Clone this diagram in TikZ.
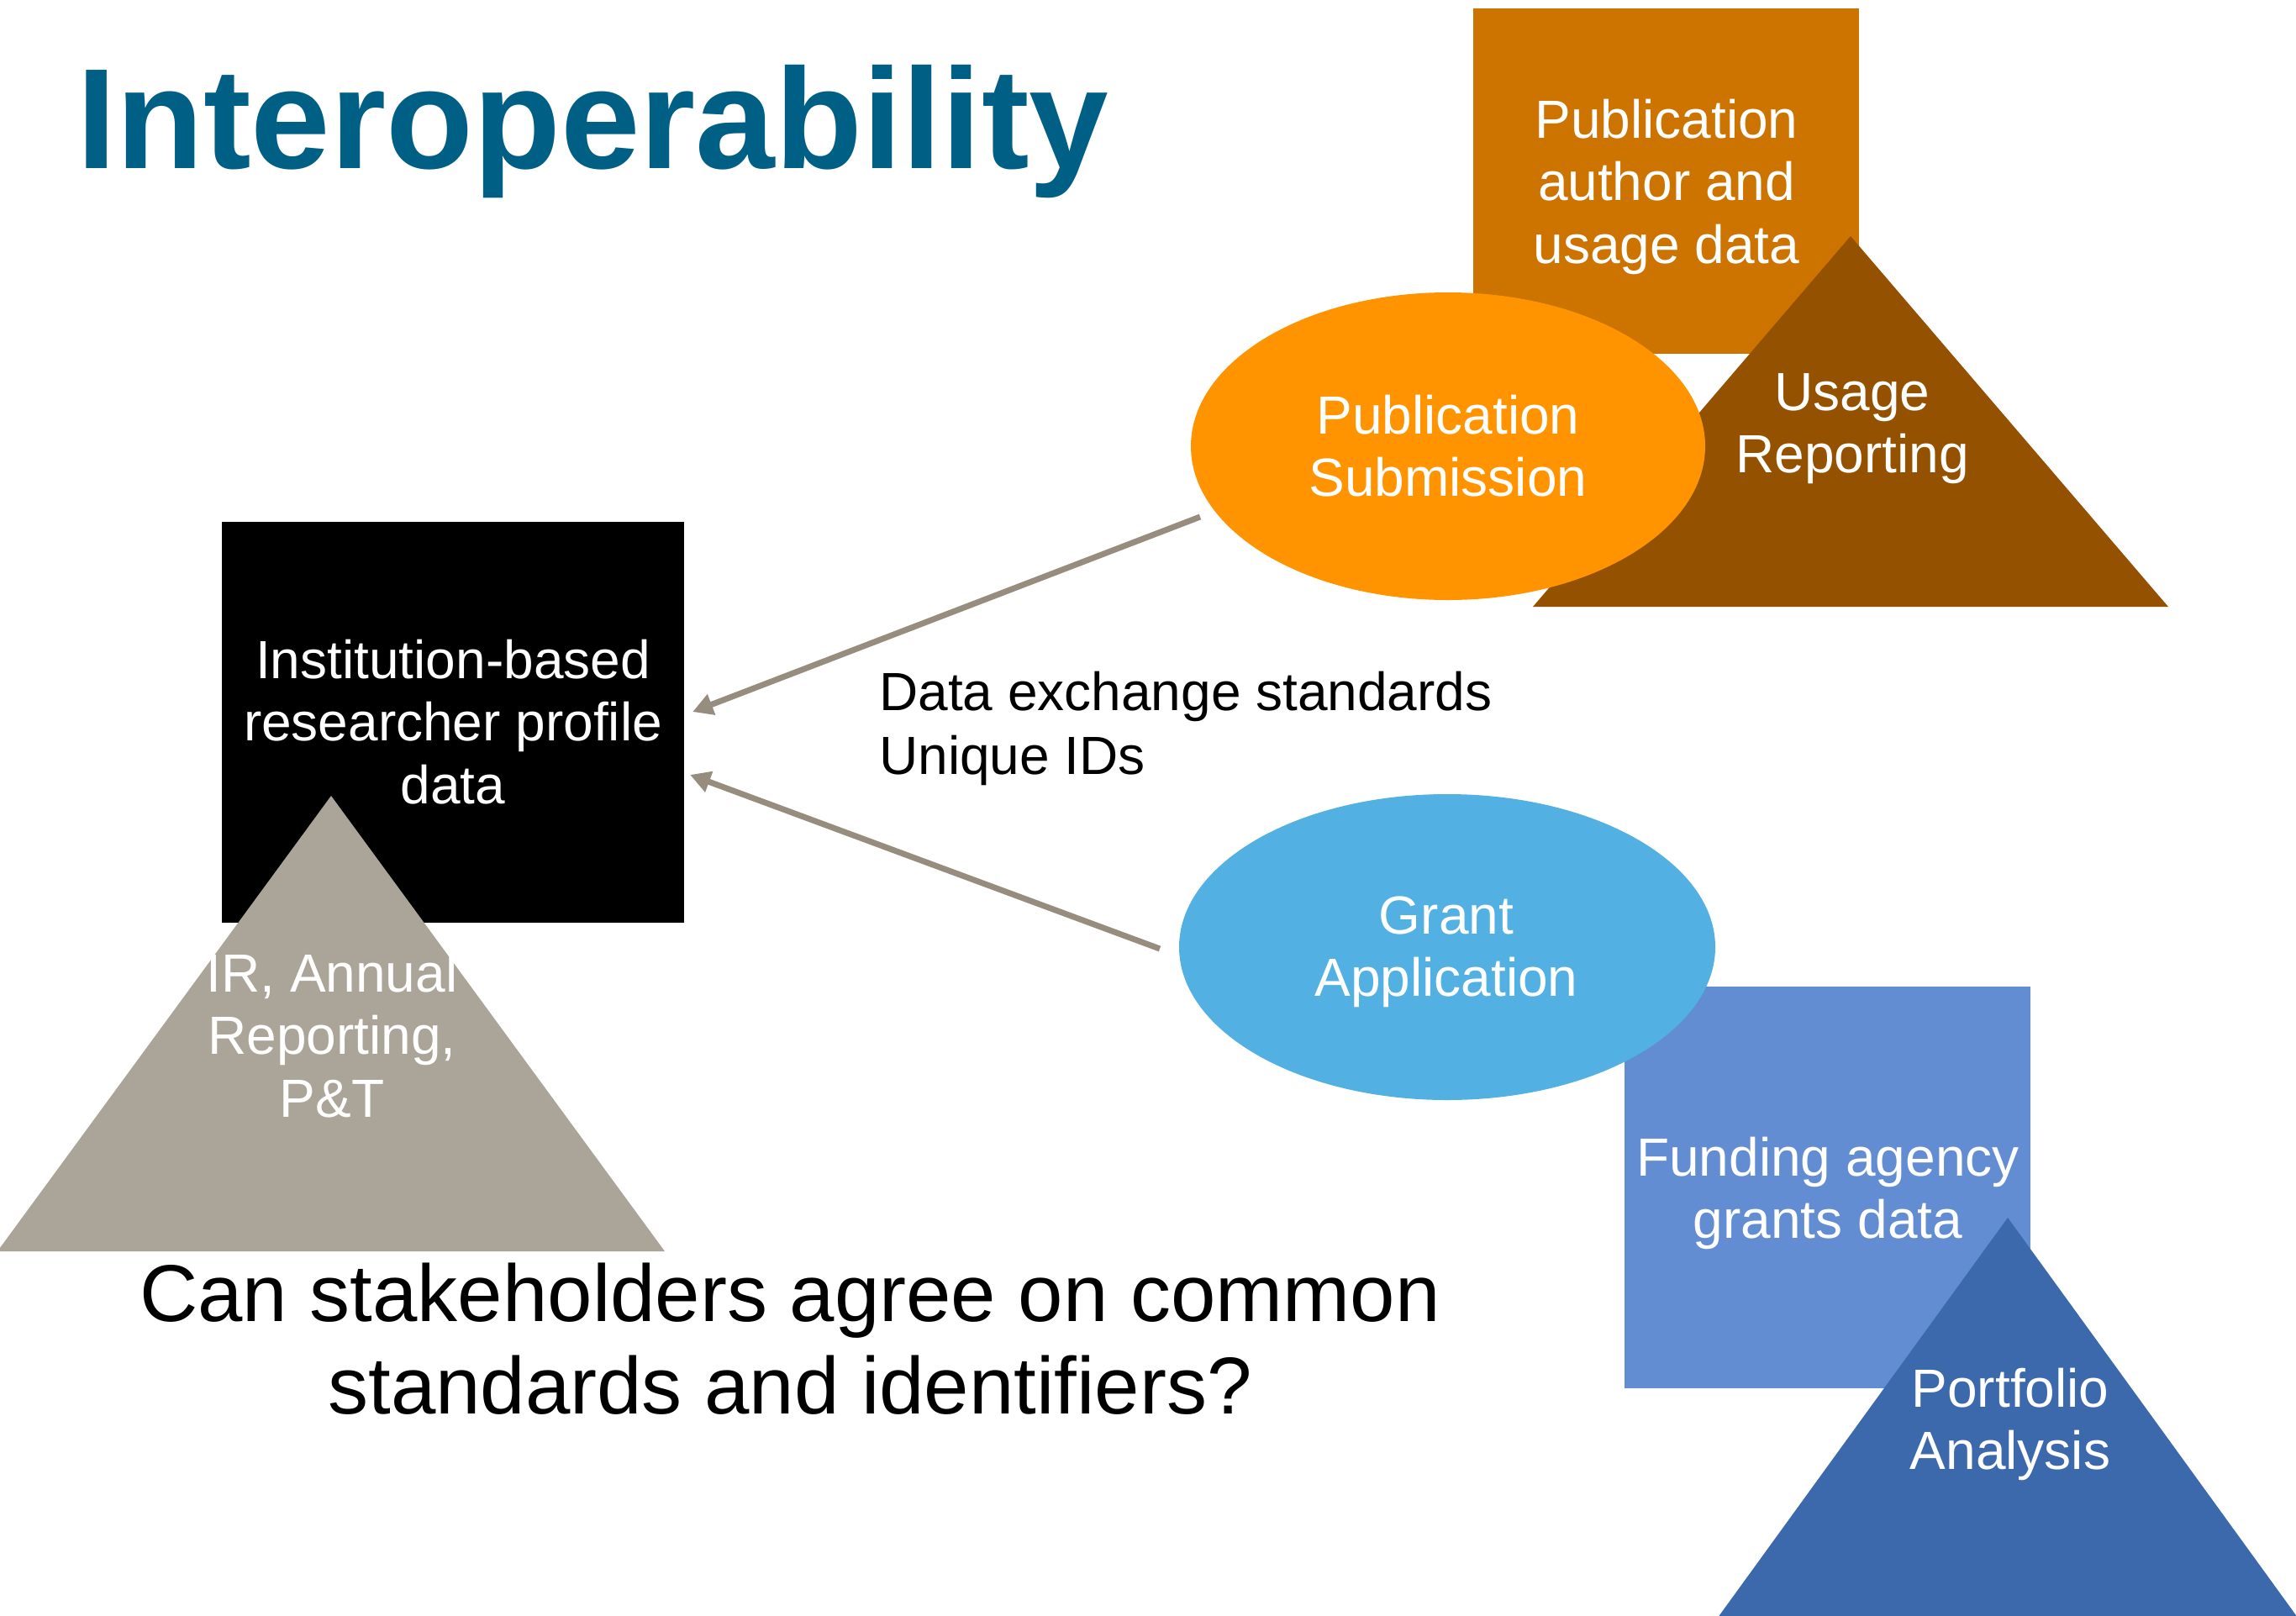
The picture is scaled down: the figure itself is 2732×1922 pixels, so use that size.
\documentclass[tikz,border=0pt]{standalone}
\usepackage{fontspec}
\setmainfont{Liberation Sans}
\usetikzlibrary{shapes.geometric,arrows.meta}
\definecolor{titleblue}{RGB}{0,95,133}
\definecolor{graytri}{RGB}{170,165,152}
\definecolor{orangeell}{RGB}{255,148,0}
\definecolor{orangerect}{RGB}{204,115,0}
\definecolor{browntri}{RGB}{148,82,0}
\definecolor{blueell}{RGB}{82,176,226}
\definecolor{bluerect}{RGB}{98,141,210}
\definecolor{bluetri}{RGB}{60,105,171}
\definecolor{arrowgray}{RGB}{150,141,126}
\newcommand\FstLine{\rule{0pt}{50pt}}
\tikzset{
  lbl/.style={anchor=north, inner sep=0pt, align=center, text=white, font=\fontsize{64}{74.5}\selectfont},
  boxshape/.style={rectangle, inner sep=0pt, draw=none},
  ellshape/.style={ellipse, inner sep=0pt, draw=none},
  conn/.style={draw=arrowgray, line width=7pt, -{Triangle[length=24pt,width=25pt]}}
}
\begin{document}
\begin{tikzpicture}[x=1pt,y=-1pt]
\path[use as bounding box, clip] (0,0) rectangle (2732,1922);
\fill[white] (0,0) rectangle (2732,1922);

% title
\node[anchor=base west, inner sep=0pt, text=titleblue, font=\bfseries\fontsize{170}{200}\selectfont] (title) at (91,200) {Interoperability};

% institution group
\node[boxshape, fill=black, minimum width=550pt, minimum height=477pt] (profile) at (539,859.5) {};
\fill[graytri] (394,947) coordinate (irtop) -- (-3,1489) -- (791,1489) -- cycle;
\node[lbl] (profiletext) at (539,757) {\FstLine Institution-based\\researcher profile\\data};
\node[lbl] (irtext) at (395,1130) {\FstLine IR, Annual\\Reporting,\\P\&T};

% publication group
\node[boxshape, fill=orangerect, minimum width=459pt, minimum height=411pt] (pubdata) at (1982.5,215.5) {};
\fill[browntri] (2202,281) coordinate (usetop) -- (1824,722) -- (2580,722) -- cycle;
\node[ellshape, fill=orangeell, minimum width=612pt, minimum height=366pt] (pubsub) at (1723,531) {};
\node[lbl] (pubdatatext) at (1983,114) {\FstLine Publication\\author and\\usage data};
\node[lbl] (pubsubtext) at (1723,466) {\FstLine Publication\\Submission};
\node[lbl] (usetext) at (2204,438) {\FstLine Usage\\Reporting};

% grant group
\node[boxshape, fill=bluerect, minimum width=483pt, minimum height=478pt] (funddata) at (2174.5,1413) {};
\fill[bluetri] (2389,1449) coordinate (porttop) -- (1983,2009) -- (2795,2009) -- cycle;
\node[ellshape, fill=blueell, minimum width=638pt, minimum height=364pt] (grant) at (1722,1127) {};
\node[lbl] (granttext) at (1721,1061) {\FstLine Grant\\Application};
\node[lbl] (fundtext) at (2175,1349) {\FstLine Funding agency\\grants data};
\node[lbl] (porttext) at (2392,1624) {\FstLine Portfolio\\Analysis};

% connectors
\coordinate (pubstart) at (1428,615);
\coordinate (grantstart) at (1380,1129);
\coordinate (tipA) at ([xshift=10pt,yshift=12.5pt]profile.east);
\coordinate (tipB) at ([xshift=7pt,yshift=-62.5pt]profile.east);
\draw[conn] (pubstart) -- (tipA);
\draw[conn] (grantstart) -- (tipB);

% texts
\node[anchor=north west, inner sep=0pt, align=left, font=\fontsize{64}{76}\selectfont] (stdtext) at (1046,795) {\FstLine Data exchange standards\\Unique IDs};
\node[anchor=north, inner sep=0pt, align=center, font=\fontsize{96}{110}\selectfont] (question) at (940,1497) {\rule{0pt}{75pt}Can stakeholders agree on common\\standards and identifiers?};
\end{tikzpicture}
\end{document}
